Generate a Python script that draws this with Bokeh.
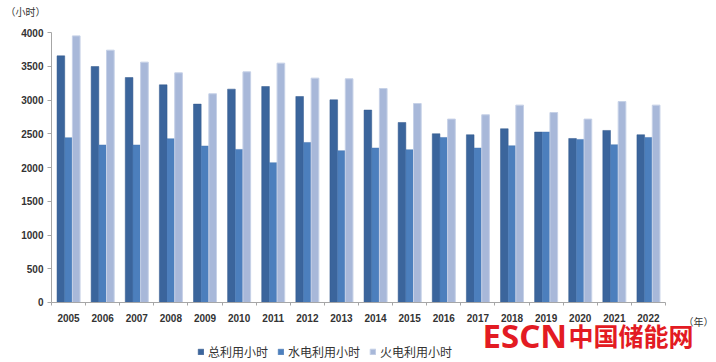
from bokeh.plotting import figure
from bokeh.models import (FactorRange, Range1d, Label, Legend, LegendItem, ColumnDataSource,
                          FixedTicker, LinearAxis)
from bokeh.transform import dodge
from bokeh.embed import file_html
from bokeh.resources import INLINE

years = [str(y) for y in range(2005, 2023)]
total_hours = [3654, 3496, 3333, 3225, 2939, 3161, 3200, 3052, 3003, 2851,
               2667, 2500, 2485, 2574, 2525, 2430, 2549, 2485]
hydro_hours = [2441, 2333, 2333, 2426, 2318, 2268, 2071, 2371, 2249, 2288,
               2263, 2445, 2288, 2322, 2525, 2416, 2337, 2445]
thermal_hours = [3950, 3738, 3561, 3402, 3092, 3417, 3546, 3324, 3314, 3170,
                 2948, 2717, 2781, 2924, 2815, 2717, 2977, 2924]
series_names = ["总利用小时", "水电利用小时", "火电利用小时"]
y_ticks = [0, 500, 1000, 1500, 2000, 2500, 3000, 3500, 4000]

src = ColumnDataSource(data=dict(year=years, total=total_hours, hydro=hydro_hours, thermal=thermal_hours))

W, H = 716, 362
# frame covers the whole canvas; axes are pinned inside it
p = figure(width=W, height=H, output_backend="svg", toolbar_location=None,
           x_range=FactorRange(factors=years, range_padding=1.495, range_padding_units="absolute"),
           y_range=Range1d(-888.9, 4474.1),
           min_border=0)

bw = 0.225
r1 = p.vbar(x=dodge("year", -bw, range=p.x_range), top="total", width=bw, source=src,
            fill_color="#3B659C", line_color="#33598C", line_width=0.5)
r2 = p.vbar(x=dodge("year", 0, range=p.x_range), top="hydro", width=bw, source=src,
            fill_color="#4C7FBD", line_color="#4677B2", line_width=0.5)
r3 = p.vbar(x=dodge("year", bw, range=p.x_range), top="thermal", width=bw, source=src,
            fill_color="#A8B8D9", line_color="#C6D1E7", line_width=1)

p.outline_line_color = None
p.xgrid.grid_line_color = None
p.ygrid.grid_line_color = None

p.yaxis.ticker = FixedTicker(ticks=y_ticks)
p.yaxis.fixed_location = 0
p.yaxis.bounds = (0, 4000)
p.xaxis.fixed_location = 0
p.xaxis.bounds = (0, len(years))
for ax in (p.xaxis[0], p.yaxis[0]):
    ax.axis_line_color = "#A6A6A6"
    ax.major_tick_line_color = "#A6A6A6"
    ax.minor_tick_line_color = None
    ax.major_label_text_font = "Liberation Sans"
    ax.major_label_text_font_size = "10px"
    ax.major_label_text_color = "#333333"
    ax.major_label_text_font_style = "bold"
p.yaxis.major_tick_out = 4
p.yaxis.major_tick_in = 0
p.yaxis.major_label_standoff = 4
p.xaxis.major_tick_line_color = None
p.xaxis.major_label_standoff = 6

# small tick marks at the category boundaries
boundary_axis = LinearAxis(ticker=FixedTicker(ticks=list(range(len(years) + 1))),
                           fixed_location=0, axis_line_color=None,
                           major_tick_line_color="#A6A6A6", major_tick_out=3, major_tick_in=0,
                           minor_tick_line_color=None, major_label_text_color=None,
                           major_label_text_font_size="1px")
p.add_layout(boundary_axis, "below")

legend = Legend(items=[LegendItem(label=series_names[0], renderers=[r1]),
                       LegendItem(label=series_names[1], renderers=[r2]),
                       LegendItem(label=series_names[2], renderers=[r3])],
                location=(197, 2), orientation="horizontal",
                padding=0, margin=0, spacing=9, glyph_width=7, glyph_height=7,
                label_standoff=4, label_height=12, border_line_color=None,
                background_fill_alpha=0,
                label_text_font="Noto Sans CJK SC", label_text_font_size="12px",
                label_text_color="#333333")
p.add_layout(legend, "center")

p.add_layout(Label(x=5, y=351, x_units="screen", y_units="screen", text="（小时）",
                   text_font="Noto Sans CJK SC", text_font_size="10px", text_color="#333333",
                   text_baseline="middle", text_align="left"))
p.add_layout(Label(x=683, y=41, x_units="screen", y_units="screen", text="（年）",
                   text_font="Noto Sans CJK SC", text_font_size="10px", text_color="#333333",
                   text_baseline="middle", text_align="left"))
p.add_layout(Label(x=482, y=27, x_units="screen", y_units="screen", text="ESCN",
                   text_font="Noto Sans", text_font_size="33px", text_font_style="bold",
                   text_color="#E31B23", text_baseline="alphabetic", text_align="left"))
p.add_layout(Label(x=568, y=28, x_units="screen", y_units="screen", text="中国储能网",
                   text_font="Noto Sans CJK SC", text_font_size="25px", text_font_style="bold",
                   text_color="#E31B23", text_baseline="alphabetic", text_align="left"))

open("out.html", "w").write(file_html(p, INLINE))
